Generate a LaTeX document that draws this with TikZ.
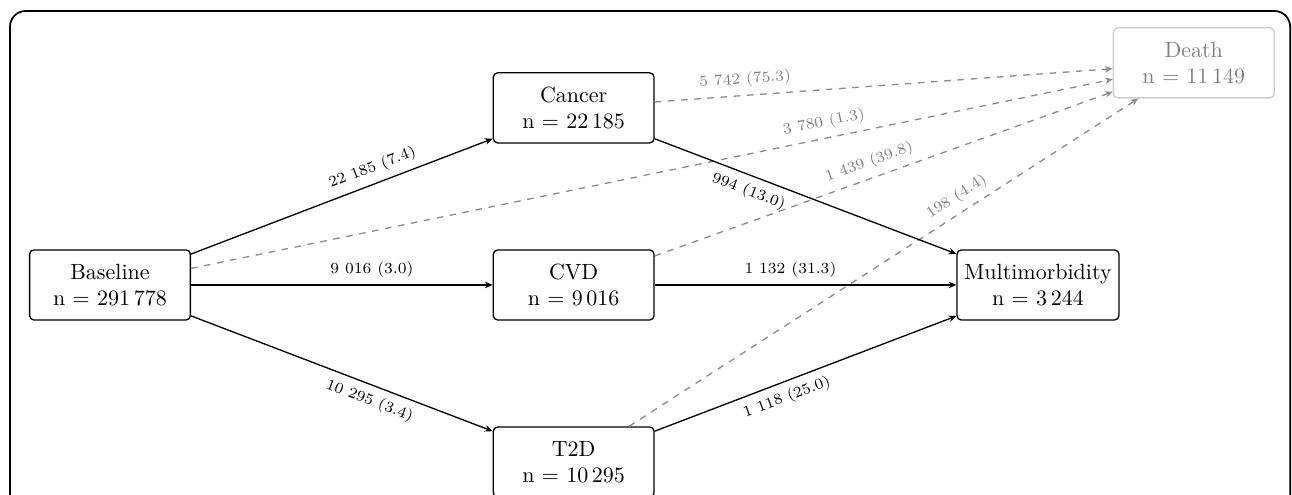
\documentclass[tikz,border=0pt]{standalone}
\usetikzlibrary{arrows.meta}

\begin{document}
\begin{tikzpicture}[
    state/.style={rectangle, rounded corners=2pt, draw, semithick, align=center, minimum width=2.57cm, minimum height=1.12cm},
    deadstate/.style={state, draw=black!20, text=black!50},
    trans/.style={semithick, -{Stealth[length=3.5pt, width=3pt]}},
    deadtrans/.style={trans, dashed, draw=black!45},
    lab/.style={font=\scriptsize, sloped},
    deadlab/.style={lab, text=black!50}]
                \useasboundingbox (-1.758,-3.356) rectangle (18.89,4.554);
                \draw[line width=0.8pt, rounded corners=0.25cm] (-1.598,-3.8) rectangle (18.86,4.378);
                \node[state] (base) at (0,0) {Baseline\\n $=$ 291\,778};
                \node[state] (cancer) at (7.41,2.83) {Cancer\\n $=$ 22\,185};
                \node[state] (cvd) at (7.41,0) {CVD\\n $=$ 9\,016};
                \node[state] (t2d) at (7.41,-2.83) {T2D\\n $=$ 10\,295};
                \node[state] (multi) at (14.83,0) {Multimorbidity\\n $=$ 3\,244};
                \node[deadstate] (death) at (17.32,3.55) {Death\\n $=$ 11\,149};
                % transitions to death
                \draw[deadtrans] (cancer) -- node[deadlab, above, pos=0.2] {5 742 (75.3)} (death);
                \draw[deadtrans] (base) -- node[deadlab, above, pos=0.69] {3 780 (1.3)} (death);
                \draw[deadtrans] (cvd) -- node[deadlab, above, pos=0.48] {1 439 (39.8)} (death);
                \draw[deadtrans] (t2d) -- node[deadlab, above, pos=0.66] {198 (4.4)} (death);
                % transitions between states
                \draw[trans] (base) -- node[lab, above, pos=0.62] {22 185 (7.4)} (cancer);
                \draw[trans] (base) -- node[lab, above, pos=0.6] {9 016 (3.0)} (cvd);
                \draw[trans] (base) -- node[lab, below, pos=0.61] {10 295 (3.4)} (t2d);
                \draw[trans] (cancer) -- node[lab, below, pos=0.33] {994 (13.0)} (multi);
                \draw[trans] (cvd) -- node[lab, above, pos=0.45] {1 132 (31.3)} (multi);
                \draw[trans] (t2d) -- node[lab, below, pos=0.42] {1 118 (25.0)} (multi);
            \end{tikzpicture}
\end{document}
